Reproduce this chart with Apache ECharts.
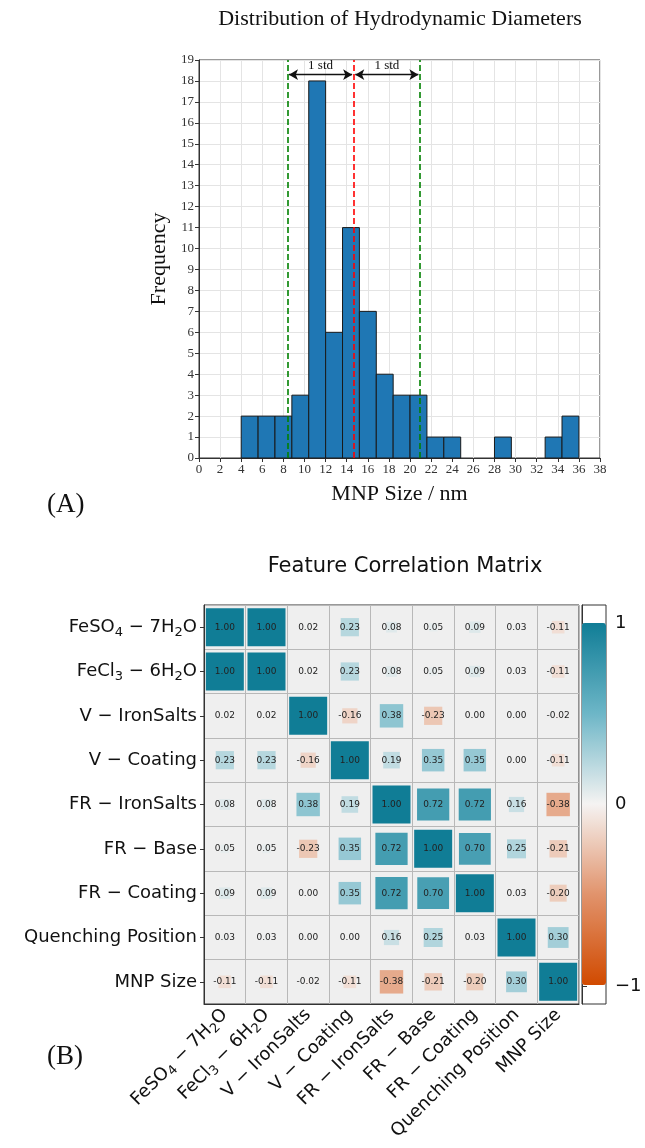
<!DOCTYPE html>
<html>
<head>
<meta charset="utf-8">
<title>MNP size distribution and feature correlation</title>
<script src="https://cdn.jsdelivr.net/npm/echarts@6.0.0/dist/echarts.min.js"></script>
<style>
  html, body { margin: 0; padding: 0; background: #fff; }
  #main { width: 645px; height: 1148px; }
</style>
</head>
<body>
<div id="main"></div>
<script>
// (A) histogram of hydrodynamic diameters
var binEdges = [4, 5.6, 7.2, 8.8, 10.4, 12, 13.6, 15.2, 16.8, 18.4, 20, 21.6, 23.2, 24.8, 26.4, 28, 29.6, 31.2, 32.8, 34.4, 36];
var binCounts = [2, 2, 2, 3, 18, 6, 11, 7, 4, 3, 3, 1, 1, 0, 0, 1, 0, 0, 1, 2];
var meanSize = 14.66;
var stdSize = 6.28;

// (B) correlation matrix
var features = [
    '{n|FeSO}{s|4}{n| − 7H}{s|2}{n|O}',
    '{n|FeCl}{s|3}{n| − 6H}{s|2}{n|O}',
    'V − IronSalts',
    'V − Coating',
    'FR − IronSalts',
    'FR − Base',
    'FR − Coating',
    'Quenching Position',
    'MNP Size'
];
var corr = [
    [1.00, 1.00, 0.02, 0.23, 0.08, 0.05, 0.09, 0.03, -0.11],
    [1.00, 1.00, 0.02, 0.23, 0.08, 0.05, 0.09, 0.03, -0.11],
    [0.02, 0.02, 1.00, -0.16, 0.38, -0.23, 0.00, 0.00, -0.02],
    [0.23, 0.23, -0.16, 1.00, 0.19, 0.35, 0.35, 0.00, -0.11],
    [0.08, 0.08, 0.38, 0.19, 1.00, 0.72, 0.72, 0.16, -0.38],
    [0.05, 0.05, -0.23, 0.35, 0.72, 1.00, 0.70, 0.25, -0.21],
    [0.09, 0.09, 0.00, 0.35, 0.72, 0.70, 1.00, 0.03, -0.20],
    [0.03, 0.03, 0.00, 0.00, 0.16, 0.25, 0.03, 1.00, 0.30],
    [-0.11, -0.11, -0.02, -0.11, -0.38, -0.21, -0.20, 0.30, 1.00]
];
var colorbarTicks = [-1, 0, 1];

var histData = binCounts.map(function (c, i) {
    return [binEdges[i], binEdges[i + 1], c];
});
var corrData = [];
corr.forEach(function (row, i) {
    row.forEach(function (v, j) {
        corrData.push([j, i, v]);
    });
});

var serif = 'Liberation Serif';
var sans = 'DejaVu Sans';
// subscripts: smaller digits pushed down by top padding
var subRich = {
    n: {},
    s: { fontSize: 13, padding: [10, 0, 0, 0] }
};

var chart = echarts.init(document.getElementById('main'));
var option = {
    backgroundColor: '#fff',
    animation: false,
    title: [
        { text: 'Distribution of Hydrodynamic Diameters', left: 400, top: 8, textAlign: 'center', padding: 0,
          textStyle: { fontFamily: serif, fontSize: 22, fontWeight: 'normal', color: '#111' } },
        { text: 'Feature Correlation Matrix', left: 405, top: 556, textAlign: 'center', padding: 0,
          textStyle: { fontFamily: sans, fontSize: 21, fontWeight: 'normal', color: '#111' } },
        { text: '(A)', left: 47, top: 491, padding: 0,
          textStyle: { fontFamily: serif, fontSize: 27, fontWeight: 'normal', color: '#111' } },
        { text: '(B)', left: 47, top: 1043, padding: 0,
          textStyle: { fontFamily: serif, fontSize: 27, fontWeight: 'normal', color: '#111' } }
    ],
    grid: [
        { left: 199, top: 60, width: 401, height: 398, show: true, borderColor: '#333', borderWidth: 1, backgroundColor: '#fff' },
        { left: 204, top: 605, width: 375, height: 399, show: true, borderColor: '#333', borderWidth: 1, backgroundColor: '#efefef' },
        { left: 582, top: 605, width: 24, height: 399, show: true, borderColor: '#333', borderWidth: 1, backgroundColor: '#fff' }
    ],
    xAxis: [
        {
            gridIndex: 0, type: 'value', min: 0, max: 38, interval: 2,
            name: 'MNP Size / nm', nameLocation: 'middle', nameGap: 25,
            nameTextStyle: { fontFamily: serif, fontSize: 22, color: '#111' },
            axisLine: { lineStyle: { color: '#333' } },
            axisTick: { length: 4, lineStyle: { color: '#333' } },
            axisLabel: { fontFamily: serif, fontSize: 13, color: '#333', margin: 5 },
            splitLine: { show: true, lineStyle: { color: '#e4e4e4' } }
        },
        {
            gridIndex: 1, type: 'category', data: features, boundaryGap: true,
            axisLine: { lineStyle: { color: '#333' } },
            axisTick: { alignWithLabel: true, length: 4, lineStyle: { color: '#333' } },
            axisLabel: { interval: 0, rotate: 45, fontFamily: sans, fontSize: 18, color: '#111', margin: 8, rich: subRich },
            splitLine: { show: true, interval: 0, lineStyle: { color: '#b8b8b8' } }
        },
        { gridIndex: 2, type: 'value', show: false, min: 0, max: 1 }
    ],
    yAxis: [
        {
            gridIndex: 0, type: 'value', min: 0, max: 19, interval: 1,
            name: 'Frequency', nameLocation: 'middle', nameGap: 21,
            nameTextStyle: { fontFamily: serif, fontSize: 22, color: '#111' },
            axisLine: { show: true, lineStyle: { color: '#333' } },
            axisTick: { show: true, length: 4, lineStyle: { color: '#333' } },
            axisLabel: { fontFamily: serif, fontSize: 13, color: '#333', margin: 5 },
            splitLine: { show: true, lineStyle: { color: '#e4e4e4' } }
        },
        {
            gridIndex: 1, type: 'category', data: features, inverse: true, boundaryGap: true,
            axisLine: { show: true, lineStyle: { color: '#333' } },
            axisTick: { show: true, alignWithLabel: true, length: 4, lineStyle: { color: '#333' } },
            axisLabel: { interval: 0, fontFamily: sans, fontSize: 18, color: '#111', margin: 7, rich: subRich },
            splitLine: { show: true, interval: 0, lineStyle: { color: '#b8b8b8' } }
        },
        {
            gridIndex: 2, type: 'value', min: -1.1, max: 1.1, position: 'right',
            axisLine: { show: true, lineStyle: { color: '#333' } },
            axisTick: { show: true, customValues: colorbarTicks, length: 5, lineStyle: { color: '#333' } },
            axisLabel: {
                customValues: colorbarTicks, fontFamily: sans, fontSize: 18, color: '#111', margin: 9,
                formatter: function (v) { return v < 0 ? '−' + Math.abs(v) : String(v); }
            },
            splitLine: { show: false }
        }
    ],
    visualMap: {
        type: 'continuous', min: -1, max: 1, dimension: 2, seriesIndex: 3,
        left: 582, top: 623, itemWidth: 24, itemHeight: 362, padding: 0,
        calculable: false, hoverLink: false,
        inRange: { color: ['#d14a00', '#e1936c', '#f5f3f2', '#6db6c7', '#107d96'] }
    },
    series: [
        {
            type: 'custom', xAxisIndex: 0, yAxisIndex: 0, z: 3,
            encode: { x: [0, 1], y: 2 },
            data: histData,
            renderItem: function (params, api) {
                if (api.value(2) <= 0) return null;
                var p0 = api.coord([api.value(0), api.value(2)]);
                var p1 = api.coord([api.value(1), 0]);
                return {
                    type: 'rect',
                    shape: { x: p0[0], y: p0[1], width: p1[0] - p0[0], height: p1[1] - p0[1] },
                    style: { fill: '#1f77b4', stroke: '#1a1a1a', lineWidth: 1 }
                };
            }
        },
        {
            type: 'line', xAxisIndex: 0, yAxisIndex: 0, data: [], z: 4,
            markLine: {
                silent: true, symbol: 'none', label: { show: false },
                lineStyle: { type: [6, 3], width: 1.6 },
                data: [
                    { xAxis: meanSize - stdSize, lineStyle: { color: '#008000' } },
                    { xAxis: meanSize, lineStyle: { color: '#ff0000' } },
                    { xAxis: meanSize + stdSize, lineStyle: { color: '#008000' } }
                ]
            }
        },
        {
            type: 'line', xAxisIndex: 0, yAxisIndex: 0, data: [], z: 5,
            markLine: {
                silent: true, symbol: ['arrow', 'arrow'], symbolSize: [8, 9],
                lineStyle: { type: 'solid', color: '#111', width: 1.3 },
                label: { show: true, position: 'insideMiddleTop', formatter: '1 std', distance: 3,
                         fontFamily: serif, fontSize: 13, color: '#111' },
                data: [
                    [{ coord: [meanSize - stdSize + 0.15, 18.3] }, { coord: [meanSize - 0.15, 18.3] }],
                    [{ coord: [meanSize + 0.15, 18.3] }, { coord: [meanSize + stdSize - 0.15, 18.3] }]
                ]
            }
        },
        {
            type: 'scatter', xAxisIndex: 1, yAxisIndex: 1, symbol: 'rect',
            symbolSize: function (d) { return Math.max(38 * Math.sqrt(Math.abs(d[2])), 0.5); },
            data: corrData,
            itemStyle: { opacity: 1 },
            label: {
                show: true, position: 'inside', fontFamily: sans, fontSize: 9, color: '#222',
                formatter: function (p) { return p.value[2].toFixed(2); }
            },
            emphasis: { disabled: true }
        }
    ]
};
chart.setOption(option);
window.addEventListener('resize', function () { chart.resize(); });
</script>
</body>
</html>
